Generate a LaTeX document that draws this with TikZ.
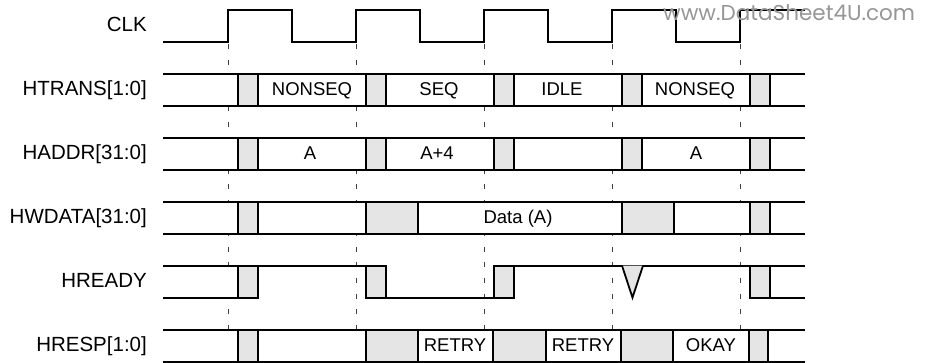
\documentclass[tikz,border=0pt]{standalone}
\usepackage{fontspec}
\setmainfont{Liberation Sans}
\newfontfamily\wmfont{Poppins}
\definecolor{boxgray}{RGB}{229,229,229}
\definecolor{wmgray}{RGB}{150,150,150}
\begin{document}
\begin{tikzpicture}[x=1pt,y=-1pt,line join=miter,
  sig/.style={line width=1.8pt,draw=black},
  gbox/.style={fill=boxgray,draw=black,line width=1.8pt},
  tickline/.style={draw=black!75,line width=0.9pt,dash pattern=on 5pt off 10.6pt},
  lbl/.style={anchor=base east,font=\fontsize{20.5}{24}\selectfont,inner sep=0pt},
  val/.style={anchor=base,font=\fontsize{18.5}{22}\selectfont,inner sep=0pt},
  wm/.style={anchor=base west,text=wmgray,font=\wmfont\fontsize{21.5}{24}\selectfont,inner sep=0pt}]
\useasboundingbox (0,0) rectangle (931,362);

% clock edge guide lines
\foreach \e/\n in {228/a,356/b,484/c,612/d,740/e}{
  \coordinate (g\n t) at (\e,44);
  \coordinate (g\n b) at (\e,330);
  \draw[tickline] (g\n t) -- (g\n b);
}

% labels
\node[lbl] (lclk) at (147,31.6) {CLK};
\node[lbl] (ltrans) at (147,95.6) {HTRANS[1:0]};
\node[lbl] (laddr) at (147,159.6) {HADDR[31:0]};
\node[lbl] (lwdata) at (147,223.6) {HWDATA[31:0]};
\node[lbl] (lready) at (147,287.6) {HREADY};
\node[lbl] (lresp) at (147,351.6) {HRESP[1:0]};

% CLK
\draw[sig] (163,41.6) -- (228,41.6) -- (228,9.6) -- (292,9.6) -- (292,41.6)
  -- (356,41.6) -- (356,9.6) -- (420,9.6) -- (420,41.6)
  -- (484,41.6) -- (484,9.6) -- (548,9.6) -- (548,41.6)
  -- (612,41.6) -- (612,9.6) -- (676,9.6) -- (676,41.6)
  -- (740,41.6) -- (740,9.6) -- (805,9.6);

% generic bus rows
\foreach \t/\b in {73.6/105.6,137.6/169.6,201.6/233.6,329.6/361.6}{
  \fill[white] (163,\t) rectangle (805,\b);
  \draw[sig] (163,\t) -- (805,\t);
  \draw[sig] (163,\b) -- (805,\b);
}

% HTRANS
\foreach \a/\c in {238/258,366/386,494/514,622/642,750/770}
  \draw[gbox] (\a,73.6) rectangle (\c,105.6);
\node[val] (tr1) at (312,95) {NONSEQ};
\node[val] (tr2) at (439,95) {SEQ};
\node[val] (tr3) at (562,95) {IDLE};
\node[val] (tr4) at (695,95) {NONSEQ};

% HADDR
\foreach \a/\c in {238/258,366/386,494/514,622/642,750/770}
  \draw[gbox] (\a,137.6) rectangle (\c,169.6);
\node[val] (ad1) at (310,159) {A};
\node[val] (ad2) at (437,159) {A+4};
\node[val] (ad3) at (696,159) {A};

% HWDATA
\foreach \a/\c in {238/258,366/418,622/674,750/770}
  \draw[gbox] (\a,201.6) rectangle (\c,233.6);
\node[val] (wd1) at (518,223) {Data (A)};

% HREADY
\fill[white] (163,265.6) rectangle (238,297.6);
\fill[white] (770,265.6) rectangle (805,297.6);
\draw[sig] (163,265.6) -- (386,265.6);
\draw[sig] (494,265.6) -- (805,265.6);
\draw[sig] (163,297.6) -- (238,297.6);
\draw[sig] (366,297.6) -- (494,297.6);
\draw[sig] (750,297.6) -- (805,297.6);
\foreach \a/\c in {238/258,366/386,494/514,750/770}
  \draw[gbox] (\a,265.6) rectangle (\c,297.6);
\fill[boxgray] (622,265.6) -- (632.5,297.6) -- (643,265.6) -- cycle;
\draw[sig] (622,265.6) -- (632.5,297.6) -- (643,265.6);

% HRESP
\foreach \a/\c in {238/258,366/418,493/546,621/673,749/768}
  \draw[gbox] (\a,329.6) rectangle (\c,361.6);
\node[val] (rs1) at (455,351) {RETRY};
\node[val] (rs2) at (583,351) {RETRY};
\node[val] (rs3) at (711,351) {OKAY};

% watermark
\node[wm] (wmk) at (663,20.5) {www.DataSheet4U.com};
\end{tikzpicture}
\end{document}
